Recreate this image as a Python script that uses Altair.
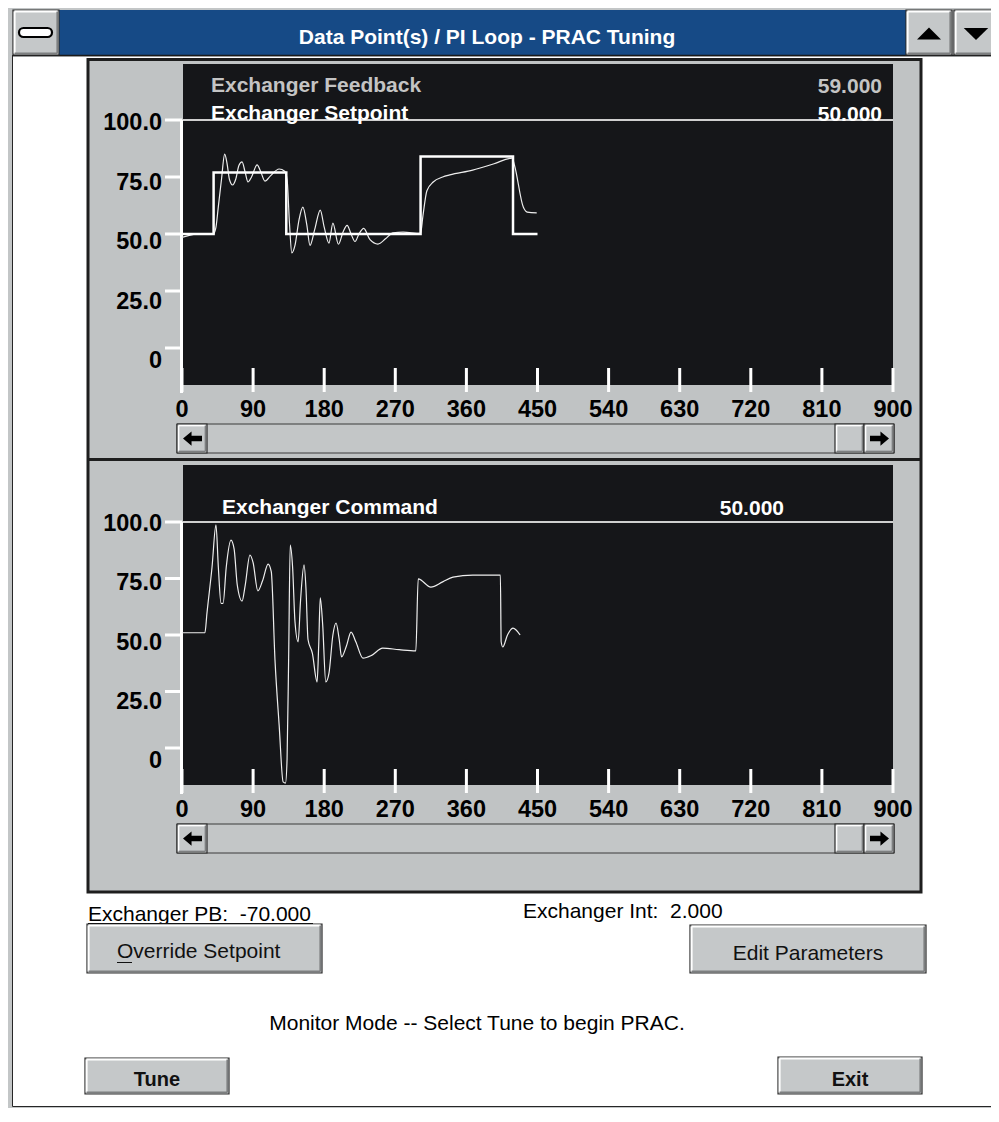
import altair as alt
import pandas as pd

# ---------------- data ----------------
x_ticks = [0, 90, 180, 270, 360, 450, 540, 630, 720, 810, 900]
x_tick_labels = ["0", "90", "180", "270", "360", "450", "540", "630", "720", "810", "900"]
y_ticks = [0, 25, 50, 75, 100]
y_tick_labels = ["0", "25.0", "50.0", "75.0", "100.0"]

setpoint_t = [0, 40, 132, 302, 419, 450]
setpoint_v = [50, 77, 50, 84, 50, 50]

feedback_t = [0, 8, 20, 40, 43, 46, 50, 54, 57, 60, 64, 68, 72, 76, 80, 83.5, 88, 95, 100,
              105, 112, 123, 130, 133, 136, 139, 143, 148, 153, 158, 162, 168, 175, 180,
              186, 191, 198, 204, 209, 214, 219, 224, 230, 238, 248, 258, 267, 280, 302,
              305, 310, 318, 330, 339, 368, 395, 418, 421, 432, 437, 449]
feedback_v = [48.5, 49.3, 50, 50.2, 53, 62, 74, 85, 81, 74, 71.5, 74, 80, 81.6, 77, 72.8, 75,
              80.3, 77, 73.2, 75.5, 78.5, 77.5, 74, 55, 41.7, 45, 56, 61.8, 54, 45, 52, 60.5,
              53, 46, 54.8, 45.5, 51, 53.8, 50, 46.7, 50, 52.5, 47.5, 45.6, 48, 50.5, 50.8,
              50.3, 58, 69, 72.8, 75, 75.9, 78, 80.8, 83.3, 80, 61.8, 59.6, 59.3]

command_t = [0, 29, 31.6, 38, 43, 46, 49.4, 52, 56, 62, 66, 70, 76, 80, 86, 90, 96, 102, 109,
             113, 117.7, 123, 128, 131, 133, 135, 137, 140, 143, 147, 150, 154.5, 157, 159.5,
             165, 171, 173, 175, 178, 182, 186, 191, 195, 199, 202, 208, 214, 220, 229, 240,
             254, 275, 296, 299, 315, 330, 343, 368, 403, 404, 406, 412, 419, 428]
command_v = [51, 51, 59.7, 80, 98.7, 80, 64, 64, 80, 92, 88, 72, 65, 72, 85.4, 82, 69.5, 74,
             81.4, 78, 39, 10, -15, -15.5, -5, 40, 89.8, 80, 56, 47, 65, 81, 70, 48, 42, 29.2,
             45, 66.4, 55, 29.2, 33, 50, 55.3, 48, 40.3, 45, 51.3, 47, 39.8, 41, 44.2, 43.5,
             43, 74.8, 71.2, 73.5, 75.6, 76.5, 76.5, 47, 44.7, 50, 53, 50]

window_title = "Data Point(s) / PI Loop - PRAC Tuning"
top_series = ["Exchanger Feedback", "Exchanger Setpoint"]
top_readouts = ["59.000", "50.000"]
bottom_series = ["Exchanger Command"]
bottom_readouts = ["50.000"]
pb_text = "Exchanger PB:\u00a0 -70.000"
int_text = "Exchanger Int:\u00a0 2.000"
status_text = "Monitor Mode -- Select Tune to begin PRAC."
button_texts = ["Override Setpoint", "Edit Parameters", "Tune", "Exit"]

# ---------------- helpers ----------------
OFF = 8
W, H = 983, 1100
FONT = "Liberation Sans"
PANEL = "#c0c3c4"
BTN = "#c5c8c9"
BLACK = "#151619"
DARK = "#262626"

layers = []


def rect(x1, y1, x2, y2, fill, stroke=None, sw=0, radius=0):
    kw = dict(fill=fill, opacity=1)
    if stroke:
        kw.update(stroke=stroke, strokeWidth=sw)
    if radius:
        kw["cornerRadius"] = radius
    return alt.Chart().mark_rect(**kw).encode(
        x=alt.value(x1 - OFF), x2=alt.value(x2 - OFF),
        y=alt.value(y1 - OFF), y2=alt.value(y2 - OFF))


def line(x1, y1, x2, y2, color, sw):
    return alt.Chart().mark_rule(color=color, strokeWidth=sw).encode(
        x=alt.value(x1 - OFF), x2=alt.value(x2 - OFF),
        y=alt.value(y1 - OFF), y2=alt.value(y2 - OFF))


def text(x, y, s, size=21, weight="normal", color="black", align="left"):
    return alt.Chart().mark_text(text=s, font=FONT, fontSize=size, fontWeight=weight,
                                 color=color, align=align, baseline="alphabetic").encode(
        x=alt.value(x - OFF), y=alt.value(y - OFF))


def sym(x, y, path, size, color="black"):
    return alt.Chart().mark_point(shape=path, size=size, filled=True, color=color,
                                  opacity=1, strokeWidth=0).encode(
        x=alt.value(x - OFF), y=alt.value(y - OFF))


def bevel(x1, y1, x2, y2, fill=BTN, hw=2):
    out = [rect(x1, y1, x2, y2, fill, "#2b2b2b", 1.2)]
    out.append(line(x1 + 1.6, y1 + 1.6, x2 - 1.6, y1 + 1.6, "white", hw))
    out.append(line(x1 + 1.6, y1 + 1.6, x1 + 1.6, y2 - 1.6, "white", hw))
    out.append(line(x1 + 1.6, y2 - 1.6, x2 - 1.6, y2 - 1.6, "#7d7f80", hw))
    out.append(line(x2 - 1.6, y1 + 1.6, x2 - 1.6, y2 - 1.6, "#7d7f80", hw))
    return out


TRI_UP = "M-1,0.5L1,0.5L0,-0.5Z"
TRI_DOWN = "M-1,-0.5L1,-0.5L0,0.5Z"
ARR_L = "M-1,0L-0.1,-0.75L-0.1,-0.3L1,-0.3L1,0.3L-0.1,0.3L-0.1,0.75Z"
ARR_R = "M1,0L0.1,-0.75L0.1,-0.3L-1,-0.3L-1,0.3L0.1,0.3L0.1,0.75Z"

# ---------------- window ----------------
layers.append(rect(8, 8, 999, 1116, "#c3c6c7"))
layers.append(rect(13, 57, 999, 1106, "white"))
layers.append(line(12.5, 55, 12.5, 1106.5, DARK, 1))
layers.append(line(12.5, 1106.5, 999, 1106.5, DARK, 1))
layers.append(rect(59, 10, 906, 55, "#164a86"))
layers.append(line(13, 55.5, 999, 55.5, "#1a1a1a", 1.5))
layers.append(text(487, 44, window_title, 21, "bold", "white", "center"))
layers += bevel(13, 10, 59, 55)
layers.append(rect(19, 28, 52, 37, "white", "black", 2.2, 4.5))
layers += bevel(906, 10, 952, 55)
layers.append(sym(929, 33.5, TRI_UP, 576))
layers += bevel(954, 10, 998, 55)
layers.append(sym(976, 34, TRI_DOWN, 600))

# ---------------- panel ----------------
layers.append(rect(88, 59.5, 921, 892, PANEL, "#1e1e1e", 3))
layers.append(line(88, 459.5, 921, 459.5, "#1e1e1e", 3))


def scrollbar(y1, y2):
    out = [rect(177, y1, 894, y2, "#c3c6c7", "#3a3a3a", 1)]
    out += bevel(177, y1, 207, y2, hw=1.5)
    out.append(sym(192.5, (y1 + y2) / 2, ARR_L, 361))
    out += bevel(835, y1, 864, y2, hw=1.5)
    out += bevel(864, y1, 894, y2, hw=1.5)
    out.append(sym(879.5, (y1 + y2) / 2, ARR_R, 361))
    return out


x_df = pd.DataFrame({"t": x_ticks, "lab": x_tick_labels})
y_df = pd.DataFrame({"v": y_ticks, "lab": y_tick_labels})
X_SCALE = alt.Scale(domain=[0, 900], range=[182 - OFF, 893 - OFF], nice=False, zero=False)


def plot_panel(top, bot, y0px, y100px, lab0, lab100, xtick_y1, xtick_y2, xlab_y):
    ys = alt.Scale(domain=[0, 100], range=[y0px - OFF, y100px - OFF], nice=False)
    ls = alt.Scale(domain=[0, 100], range=[lab0 - OFF, lab100 - OFF], nice=False)
    out = [rect(183, top, 893, bot, BLACK)]
    out.append(alt.Chart(pd.DataFrame({"v": [100]})).mark_rule(color="#cfcfcf", strokeWidth=2).encode(
        y=alt.Y("v:Q", scale=ys, axis=None), x=alt.value(181 - OFF), x2=alt.value(893 - OFF)))
    out.append(alt.Chart(y_df).mark_rule(color="white", strokeWidth=3).encode(
        y=alt.Y("v:Q", scale=ys, axis=None), x=alt.value(165 - OFF), x2=alt.value(182 - OFF)))
    out.append(line(181.5, y100px, 181.5, xtick_y2 + 1, "white", 3))
    out.append(alt.Chart(x_df).mark_rule(color="white", strokeWidth=3).encode(
        x=alt.X("t:Q", scale=X_SCALE, axis=None),
        y=alt.value(xtick_y1 - OFF), y2=alt.value(xtick_y2 - OFF)))
    out.append(alt.Chart(x_df).mark_text(font=FONT, fontSize=23.5, fontWeight="bold",
                                         color="black", align="center", baseline="alphabetic").encode(
        x=alt.X("t:Q", scale=X_SCALE, axis=None), y=alt.value(xlab_y - OFF), text="lab:N"))
    out.append(alt.Chart(y_df).mark_text(font=FONT, fontSize=23.5, fontWeight="bold",
                                         color="black", align="right", baseline="alphabetic").encode(
        y=alt.Y("v:Q", scale=ls, axis=None), x=alt.value(162 - OFF), text="lab:N"))
    return out, ys


# top plot
top_layers, ys_top = plot_panel(64, 385, 348, 120, 368, 130, 368, 392, 417)
layers += top_layers
layers.append(text(211, 92, top_series[0], 21, "bold", "#c4c4c4"))
layers.append(text(882, 93, top_readouts[0], 21, "bold", "#c4c4c4", "right"))
layers.append(text(211, 120, top_series[1], 21, "bold", "white"))
layers.append(text(882, 121, top_readouts[1], 21, "bold", "white", "right"))

sp_df = pd.DataFrame({"t": setpoint_t, "v": setpoint_v})
fb_df = pd.DataFrame({"t": feedback_t, "v": feedback_v})
layers.append(alt.Chart(fb_df).mark_line(color="#eeeeee", strokeWidth=1.2, interpolate="monotone").encode(
    x=alt.X("t:Q", scale=X_SCALE, axis=None), y=alt.Y("v:Q", scale=ys_top, axis=None)))
layers.append(alt.Chart(sp_df).mark_line(color="white", strokeWidth=2.5, interpolate="step-after").encode(
    x=alt.X("t:Q", scale=X_SCALE, axis=None), y=alt.Y("v:Q", scale=ys_top, axis=None)))
layers += scrollbar(424, 453)

# bottom plot
bot_layers, ys_bot = plot_panel(465, 785, 748, 522, 768, 531, 769, 793, 817)
layers += bot_layers
layers.append(text(222, 514, bottom_series[0], 21, "bold", "white"))
layers.append(text(784, 515, bottom_readouts[0], 21, "bold", "white", "right"))
cmd_df = pd.DataFrame({"t": command_t, "v": command_v})
layers.append(alt.Chart(cmd_df).mark_line(color="#eeeeee", strokeWidth=1.2, interpolate="monotone").encode(
    x=alt.X("t:Q", scale=X_SCALE, axis=None), y=alt.Y("v:Q", scale=ys_bot, axis=None)))
layers += scrollbar(824, 853)

# ---------------- lower controls ----------------
layers.append(text(88, 921, pb_text, 21))
layers.append(line(88, 923.5, 313, 923.5, "black", 1))
layers.append(text(523, 918, int_text, 21))
layers += bevel(87, 924, 322, 973)
layers.append(text(117, 958, button_texts[0], 21, "normal", "#111111", "left"))
layers.append(line(117, 962.5, 132, 962.5, "#111111", 1))
layers += bevel(690, 925, 926, 973)
layers.append(text(808, 960, button_texts[1], 21, "normal", "#111111", "center"))
layers.append(text(477, 1030, status_text, 21, "normal", "black", "center"))
layers += bevel(85, 1058, 229, 1094)
layers.append(text(157, 1086, button_texts[2], 20, "bold", "#111111", "center"))
layers += bevel(778, 1057, 922, 1094)
layers.append(text(850, 1086, button_texts[3], 20, "bold", "#111111", "center"))

chart = alt.layer(*layers).properties(
    width=W, height=H, padding=0,
    autosize=alt.AutoSizeParams(type="none"),
).resolve_scale(x="independent", y="independent").configure_view(strokeWidth=0)

chart.save("out.html", embed_options={"renderer": "svg", "actions": False})
